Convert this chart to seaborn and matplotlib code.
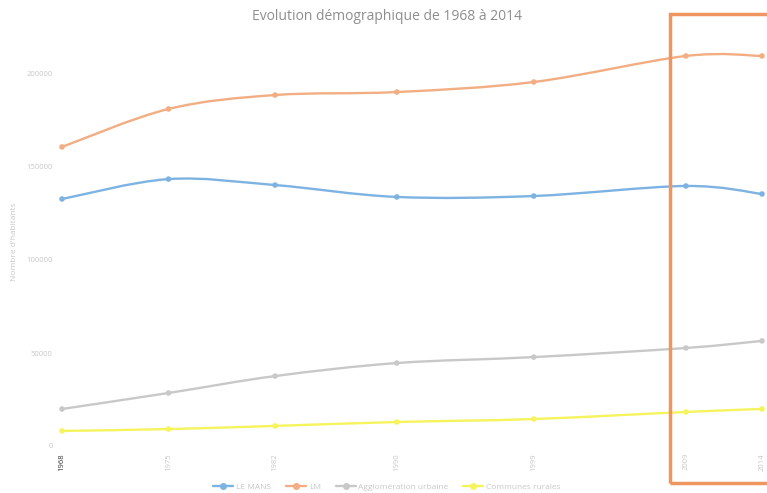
import numpy as np
import pandas as pd
import seaborn as sns
import matplotlib
matplotlib.use("Agg")
import matplotlib.pyplot as plt
from matplotlib.path import Path
from matplotlib.patches import PathPatch, Rectangle
from matplotlib.lines import Line2D

# Census years and population per territory
years = [1968, 1975, 1982, 1990, 1999, 2009, 2014]
le_mans = [132800, 143500, 140300, 133900, 134400, 139800, 135500]
lm = [160800, 181200, 188700, 190300, 195700, 209700, 209700]
agglo = [19900, 28500, 37600, 44600, 47800, 52700, 56500]
communes = [8100, 9100, 10800, 12900, 14500, 18300, 19900]

series_names = ["LE MANS", "LM", "Agglomération urbaine", "Communes rurales"]
series_values = [le_mans, lm, agglo, communes]
palette = ["#7db3e2", "#f2ad82", "#c8c8c8", "#f6f45c"]

title = "Evolution démographique de 1968 à 2014"
y_label = "Nombre d'habitants"
y_ticks = [0, 50000, 100000, 150000, 200000]

df = pd.DataFrame(
    [(n, y, v) for n, vals in zip(series_names, series_values) for y, v in zip(years, vals)],
    columns=["serie", "annee", "habitants"],
)

sns.set_theme(style="white")
plt.rcParams["font.family"] = ["Open Sans", "DejaVu Sans"]

W, H = 767, 493
fig = plt.figure(figsize=(W / 100, H / 100), dpi=100)

# axes placed in pixel terms: 1968 at x=62, 2014 at x=762, 0 at y=446, 50000 per 93 px
px_per_year = 700 / 46
x0_px, x1_px = 57, 767
xmin = 1968 - (62 - x0_px) / px_per_year
xmax = 2014 + (x1_px - 762) / px_per_year
ymax = 220000
top_px = 446 - ymax / 50000 * 93
ax = fig.add_axes([x0_px / W, (H - 446) / H, (x1_px - x0_px) / W, (446 - top_px) / H])
ax.set_xlim(xmin, xmax)
ax.set_ylim(0, ymax)


def smooth_path(xs, ys):
    """Catmull-Rom style Bezier path through the points (like Excel smoothed lines)."""
    pts = np.column_stack([xs, ys]).astype(float)
    n = len(pts)
    verts = [pts[0]]
    codes = [Path.MOVETO]
    for i in range(n - 1):
        p_prev = pts[i - 1] if i > 0 else pts[i]
        p_next2 = pts[i + 2] if i + 2 < n else pts[i + 1]
        c1 = pts[i] + (pts[i + 1] - p_prev) / 6
        c2 = pts[i + 1] - (p_next2 - pts[i]) / 6
        verts += [c1, c2, pts[i + 1]]
        codes += [Path.CURVE4] * 3
    return Path(verts, codes)


for name, color in zip(series_names, palette):
    sub = df[df["serie"] == name]
    ax.add_patch(PathPatch(smooth_path(sub["annee"], sub["habitants"]),
                           fill=False, edgecolor=color, lw=1.7, zorder=2))

sns.scatterplot(data=df, x="annee", y="habitants", hue="serie", palette=palette,
                hue_order=series_names, s=16, edgecolor="none", legend=False,
                ax=ax, zorder=3)

for s in ax.spines.values():
    s.set_visible(False)

ax.set_yticks(y_ticks)
ax.set_yticklabels([str(t) for t in y_ticks])
ax.set_xticks(years)
ax.set_xticklabels([str(y) for y in years], rotation=90, va="top")
ax.tick_params(axis="both", length=0, labelsize=5.5, labelcolor="#c8c8c8")
ax.tick_params(axis="x", pad=5)
ax.tick_params(axis="y", pad=3)
ax.get_xticklabels()[0].set_color("#333333")
ax.set_xlabel("")
ax.set_ylabel(y_label, fontsize=6, color="#c8c8c8")
ax.yaxis.set_label_coords(-0.055, 0.5)

fig.text(387 / W, 1 - 16 / H, title, ha="center", va="center",
         fontsize=10, color="#8e8e8e")

handles = [Line2D([0], [0], color=c, lw=1.7, marker="o", markersize=4) for c in palette]
fig.legend(handles, series_names, loc="center", bbox_to_anchor=(387 / W, 1 - 487 / H),
           ncol=4, frameon=False, fontsize=6, labelcolor="#c8c8c8",
           handlelength=2.4, handletextpad=0.3, columnspacing=1.8)

# highlight frame around the latest census years
fig.add_artist(Rectangle((670 / W, 1 - 483 / H), 110 / W, (483 - 14) / H,
                         transform=fig.transFigure, fill=False,
                         edgecolor="#ef9560", lw=2.5, zorder=10))

fig.savefig("out.png", dpi=100)
